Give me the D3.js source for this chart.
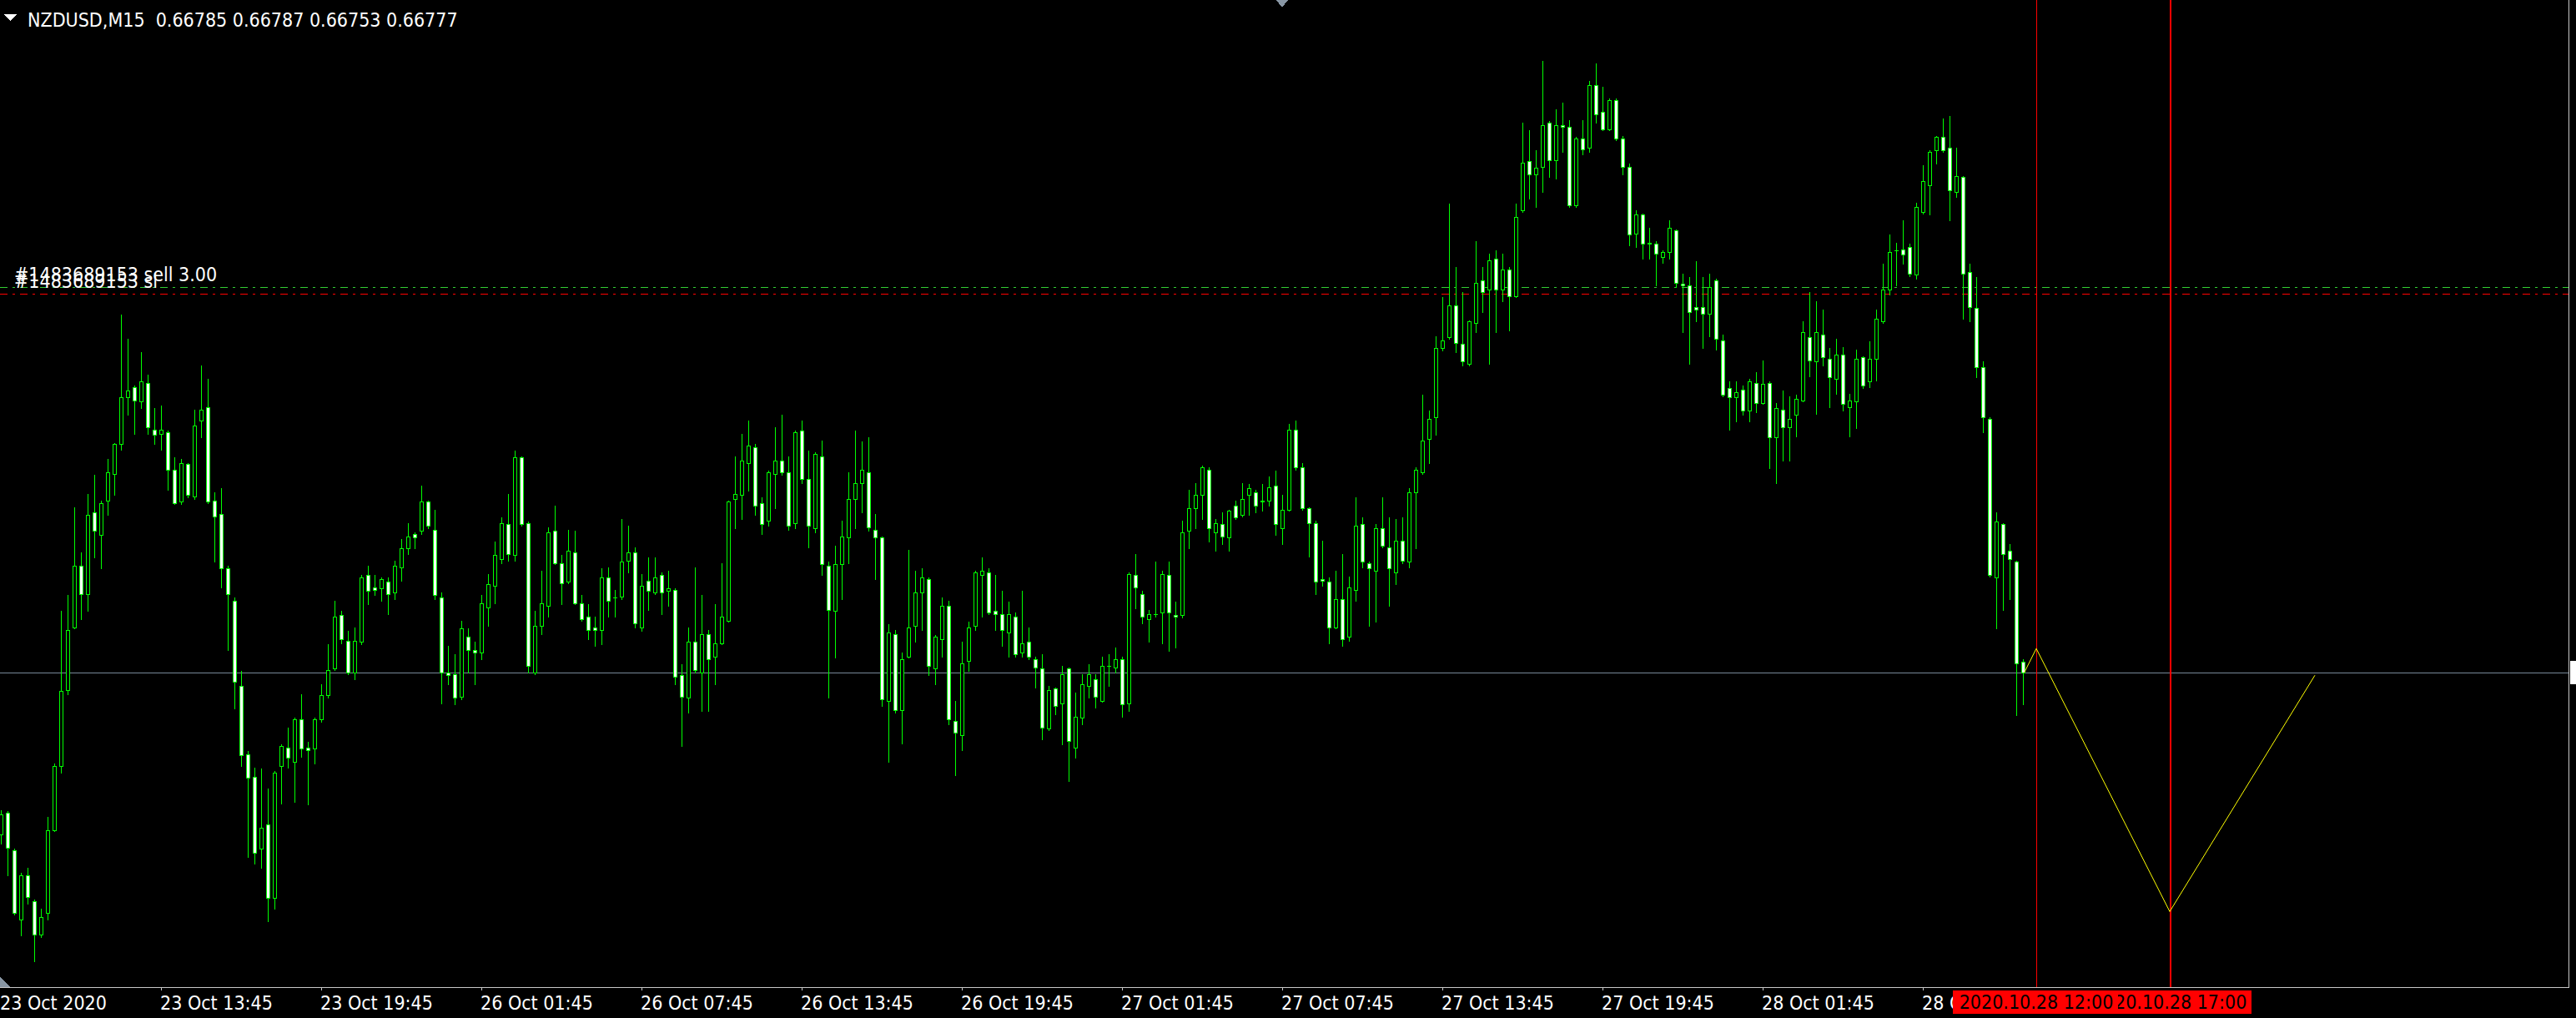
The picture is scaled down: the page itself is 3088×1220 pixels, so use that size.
<!DOCTYPE html>
<html><head><meta charset="utf-8">
<script src="https://cdn.jsdelivr.net/npm/d3@7"></script>
<style>html,body{margin:0;padding:0;background:#000;overflow:hidden}svg{display:block}</style>
</head><body>
<svg id="c" width="3088" height="1220"></svg>
<script>
// ---------------- data ----------------
const symbol = "NZDUSD,M15";
const lastBar = [0.66785, 0.66787, 0.66753, 0.66777]; // O H L C of the current bar
const firstBarTime = "2020.10.23 07:45";

const open = [
0.66656,0.66672,0.66644,0.66592,0.66625,0.66606,0.66581,0.66597,0.66659,0.66707,
0.66764,0.66811,0.66857,0.66836,0.66897,0.66880,0.66906,0.66926,0.66948,0.66983,
0.66991,0.66980,0.66994,0.66959,0.66956,0.66957,0.66929,0.66905,0.66933,0.66909,
0.66966,0.66976,0.66906,0.66896,0.66855,0.66831,0.66767,0.66716,0.66699,0.66645,
0.66663,0.66608,0.66707,0.66721,0.66710,0.66742,0.66721,0.66720,0.66742,0.66760,
0.66780,0.66820,0.66801,0.66777,0.66800,0.66850,0.66841,0.66840,0.66845,0.66837,
0.66856,0.66870,0.66881,0.66883,0.66905,0.66884,0.66833,0.66777,0.66776,0.66759,
0.66804,0.66794,0.66792,0.66826,0.66842,0.66862,0.66888,0.66865,0.66938,0.66889,
0.66777,0.66812,0.66827,0.66883,0.66859,0.66845,0.66867,0.66829,0.66819,0.66811,
0.66809,0.66848,0.66833,0.66834,0.66861,0.66867,0.66811,0.66846,0.66837,0.66850,
0.66838,0.66839,0.66775,0.66758,0.66800,0.66777,0.66806,0.66789,0.66799,0.66816,
0.66907,0.66910,0.66934,0.66946,0.66904,0.66891,0.66926,0.66936,0.66927,0.66889,
0.66958,0.66922,0.66885,0.66939,0.66857,0.66823,0.66858,0.66878,0.66907,0.66919,
0.66927,0.66884,0.66878,0.66756,0.66806,0.66749,0.66789,0.66812,0.66837,0.66847,
0.66780,0.66802,0.66827,0.66741,0.66730,0.66786,0.66812,0.66850,0.66852,0.66823,
0.66821,0.66807,0.66819,0.66792,0.66800,0.66787,0.66780,0.66735,0.66765,0.66754,
0.66780,0.66721,0.66743,0.66767,0.66772,0.66756,0.66782,0.66781,0.66787,0.66754,
0.66850,0.66836,0.66817,0.66821,0.66822,0.66850,0.66820,0.66820,0.66883,0.66900,
0.66910,0.66929,0.66882,0.66888,0.66878,0.66902,0.66895,0.66910,0.66912,0.66906,
0.66906,0.66917,0.66885,0.66899,0.66959,0.66931,0.66900,0.66889,0.66847,0.66845,
0.66811,0.66832,0.66804,0.66839,0.66888,0.66859,0.66853,0.66885,0.66871,0.66852,
0.66876,0.66860,0.66912,0.66927,0.66952,0.66968,0.67020,0.67028,0.67052,0.67023,
0.67008,0.67039,0.67071,0.67064,0.67087,0.67064,0.67079,0.67059,0.67123,0.67160,
0.67150,0.67156,0.67189,0.67161,0.67187,0.67186,0.67127,0.67177,0.67170,0.67217,
0.67197,0.67184,0.67206,0.67177,0.67156,0.67106,0.67120,0.67099,0.67098,0.67088,
0.67092,0.67108,0.67068,0.67067,0.67051,0.67051,0.67046,0.67071,0.67026,0.66990,
0.66983,0.66989,0.66973,0.66994,0.66979,0.66994,0.66953,0.66974,0.66961,0.66970,
0.66981,0.67028,0.67010,0.67030,0.67012,0.66997,0.67015,0.66976,0.66980,0.67013,
0.66995,0.67012,0.67040,0.67064,0.67093,0.67094,0.67096,0.67075,0.67122,0.67142,
0.67168,0.67178,0.67170,0.67137,0.67148,0.67077,0.67050,0.67006,0.66967,0.66848,
0.66888,0.66868,0.66860,0.66785];

const high = [
0.66674,0.66673,0.66645,0.66627,0.66631,0.66607,0.66600,0.66669,0.66709,0.66823,
0.66835,0.66901,0.66867,0.66911,0.66925,0.66906,0.66937,0.66949,0.67045,0.67027,
0.66992,0.67017,0.67000,0.66975,0.66977,0.66958,0.66938,0.66937,0.66934,0.66974,
0.67007,0.66997,0.66912,0.66915,0.66857,0.66833,0.66778,0.66718,0.66706,0.66705,
0.66690,0.66703,0.66723,0.66736,0.66743,0.66761,0.66725,0.66743,0.66768,0.66798,
0.66831,0.66823,0.66808,0.66811,0.66850,0.66857,0.66850,0.66848,0.66848,0.66861,
0.66877,0.66889,0.66882,0.66917,0.66906,0.66899,0.66837,0.66797,0.66791,0.66816,
0.66810,0.66800,0.66835,0.66851,0.66875,0.66893,0.66911,0.66943,0.66939,0.66890,
0.66823,0.66853,0.66886,0.66902,0.66865,0.66884,0.66883,0.66835,0.66828,0.66819,
0.66855,0.66856,0.66839,0.66892,0.66887,0.66871,0.66851,0.66863,0.66863,0.66852,
0.66853,0.66840,0.66783,0.66811,0.66856,0.66835,0.66809,0.66828,0.66859,0.66906,
0.66939,0.66956,0.66966,0.66948,0.66908,0.66928,0.66961,0.66970,0.66939,0.66958,
0.66966,0.66943,0.66942,0.66951,0.66860,0.66872,0.66891,0.66927,0.66958,0.66950,
0.66953,0.66896,0.66879,0.66813,0.66809,0.66792,0.66869,0.66853,0.66855,0.66848,
0.66805,0.66833,0.66831,0.66756,0.66800,0.66815,0.66853,0.66863,0.66855,0.66850,
0.66838,0.66830,0.66822,0.66838,0.66811,0.66789,0.66791,0.66767,0.66766,0.66782,
0.66781,0.66762,0.66776,0.66783,0.66776,0.66789,0.66791,0.66796,0.66789,0.66852,
0.66866,0.66838,0.66824,0.66860,0.66853,0.66860,0.66830,0.66891,0.66914,0.66919,
0.66932,0.66931,0.66892,0.66897,0.66899,0.66906,0.66919,0.66918,0.66914,0.66918,
0.66924,0.66928,0.66910,0.66963,0.66966,0.66934,0.66901,0.66891,0.66876,0.66848,
0.66853,0.66866,0.66849,0.66908,0.66893,0.66860,0.66888,0.66908,0.66893,0.66892,
0.66893,0.66915,0.66931,0.66985,0.66973,0.67029,0.67058,0.67128,0.67081,0.67062,
0.67041,0.67100,0.67081,0.67091,0.67093,0.67091,0.67081,0.67128,0.67189,0.67183,
0.67168,0.67235,0.67190,0.67199,0.67204,0.67191,0.67178,0.67191,0.67220,0.67233,
0.67216,0.67207,0.67207,0.67179,0.67158,0.67123,0.67121,0.67110,0.67100,0.67093,
0.67116,0.67109,0.67076,0.67073,0.67085,0.67073,0.67076,0.67072,0.67030,0.66995,
0.66995,0.66992,0.66997,0.67002,0.67011,0.66995,0.66979,0.66988,0.66984,0.66985,
0.67040,0.67062,0.67055,0.67049,0.67020,0.67027,0.67021,0.66986,0.67019,0.67014,
0.67025,0.67049,0.67083,0.67105,0.67099,0.67116,0.67098,0.67129,0.67157,0.67168,
0.67179,0.67192,0.67194,0.67170,0.67149,0.67083,0.67073,0.67010,0.66968,0.66897,
0.66889,0.66873,0.66861,0.66787];

const low = [
0.66649,0.66625,0.66596,0.66580,0.66604,0.66561,0.66579,0.66592,0.66658,0.66702,
0.66761,0.66810,0.66817,0.66823,0.66863,0.66855,0.66895,0.66910,0.66944,0.66970,
0.66956,0.66975,0.66956,0.66948,0.66944,0.66914,0.66903,0.66903,0.66908,0.66907,
0.66953,0.66904,0.66860,0.66841,0.66794,0.66750,0.66707,0.66639,0.66634,0.66631,
0.66591,0.66600,0.66679,0.66706,0.66680,0.66714,0.66678,0.66709,0.66740,0.66758,
0.66779,0.66799,0.66776,0.66772,0.66798,0.66828,0.66835,0.66831,0.66821,0.66832,
0.66846,0.66866,0.66870,0.66881,0.66885,0.66832,0.66754,0.66768,0.66753,0.66757,
0.66777,0.66768,0.66787,0.66812,0.66829,0.66859,0.66861,0.66861,0.66887,0.66777,
0.66776,0.66806,0.66819,0.66858,0.66828,0.66844,0.66828,0.66816,0.66802,0.66797,
0.66798,0.66819,0.66819,0.66832,0.66852,0.66811,0.66808,0.66824,0.66836,0.66821,
0.66827,0.66768,0.66722,0.66747,0.66777,0.66748,0.66748,0.66768,0.66798,0.66815,
0.66885,0.66892,0.66913,0.66895,0.66881,0.66887,0.66900,0.66925,0.66884,0.66885,
0.66919,0.66871,0.66882,0.66850,0.66758,0.66788,0.66832,0.66859,0.66885,0.66897,
0.66883,0.66847,0.66752,0.66710,0.66747,0.66724,0.66788,0.66800,0.66809,0.66775,
0.66768,0.66789,0.66738,0.66700,0.66719,0.66778,0.66809,0.66819,0.66821,0.66809,
0.66797,0.66789,0.66789,0.66789,0.66787,0.66766,0.66727,0.66734,0.66746,0.66723,
0.66696,0.66713,0.66738,0.66758,0.66751,0.66755,0.66767,0.66777,0.66744,0.66748,
0.66825,0.66814,0.66800,0.66819,0.66799,0.66793,0.66796,0.66818,0.66870,0.66885,
0.66892,0.66875,0.66868,0.66873,0.66868,0.66892,0.66894,0.66895,0.66897,0.66898,
0.66902,0.66880,0.66873,0.66898,0.66929,0.66899,0.66864,0.66836,0.66842,0.66799,
0.66810,0.66797,0.66801,0.66831,0.66856,0.66812,0.66815,0.66871,0.66827,0.66843,
0.66859,0.66856,0.66870,0.66926,0.66934,0.66955,0.67018,0.67027,0.67017,0.67007,
0.67007,0.67032,0.67047,0.67008,0.67032,0.67055,0.67033,0.67058,0.67122,0.67132,
0.67126,0.67137,0.67148,0.67147,0.67167,0.67126,0.67126,0.67165,0.67167,0.67189,
0.67183,0.67183,0.67176,0.67150,0.67097,0.67096,0.67087,0.67087,0.67067,0.67084,
0.67087,0.67066,0.67032,0.67008,0.67040,0.67020,0.67029,0.67019,0.66984,0.66959,
0.66965,0.66970,0.66965,0.66972,0.66978,0.66930,0.66919,0.66936,0.66936,0.66954,
0.66980,0.66999,0.66971,0.67007,0.66976,0.66986,0.66973,0.66954,0.66960,0.66990,
0.66991,0.66996,0.67039,0.67060,0.67067,0.67083,0.67074,0.67072,0.67121,0.67120,
0.67158,0.67167,0.67116,0.67133,0.67042,0.67040,0.66998,0.66957,0.66849,0.66810,
0.66824,0.66832,0.66745,0.66753];

const close = [
0.66671,0.66646,0.66597,0.66625,0.66609,0.66581,0.66594,0.66659,0.66707,0.66763,
0.66809,0.66857,0.66836,0.66895,0.66883,0.66904,0.66927,0.66948,0.66983,0.66988,
0.66981,0.66995,0.66961,0.66955,0.66959,0.66929,0.66904,0.66934,0.66910,0.66962,
0.66974,0.66905,0.66894,0.66855,0.66836,0.66770,0.66715,0.66698,0.66642,0.66661,
0.66608,0.66702,0.66722,0.66713,0.66742,0.66720,0.66719,0.66742,0.66760,0.66779,
0.66819,0.66802,0.66777,0.66801,0.66848,0.66838,0.66839,0.66847,0.66836,0.66857,
0.66870,0.66879,0.66878,0.66905,0.66887,0.66835,0.66777,0.66775,0.66758,0.66810,
0.66794,0.66792,0.66829,0.66843,0.66865,0.66889,0.66866,0.66938,0.66888,0.66782,
0.66812,0.66829,0.66882,0.66859,0.66844,0.66868,0.66829,0.66817,0.66809,0.66809,
0.66848,0.66831,0.66833,0.66860,0.66867,0.66814,0.66842,0.66838,0.66848,0.66837,
0.66840,0.66774,0.66759,0.66800,0.66779,0.66806,0.66787,0.66799,0.66819,0.66905,
0.66911,0.66936,0.66947,0.66902,0.66888,0.66927,0.66936,0.66927,0.66887,0.66957,
0.66922,0.66887,0.66941,0.66858,0.66824,0.66858,0.66879,0.66907,0.66919,0.66929,
0.66886,0.66878,0.66757,0.66807,0.66749,0.66787,0.66811,0.66837,0.66848,0.66782,
0.66804,0.66827,0.66742,0.66732,0.66784,0.66811,0.66852,0.66853,0.66822,0.66821,
0.66809,0.66821,0.66791,0.66799,0.66789,0.66781,0.66736,0.66764,0.66752,0.66776,
0.66726,0.66744,0.66768,0.66776,0.66759,0.66782,0.66782,0.66787,0.66753,0.66851,
0.66841,0.66819,0.66821,0.66821,0.66851,0.66822,0.66819,0.66882,0.66900,0.66910,
0.66931,0.66885,0.66889,0.66879,0.66898,0.66893,0.66907,0.66915,0.66902,0.66905,
0.66916,0.66888,0.66899,0.66959,0.66931,0.66900,0.66889,0.66845,0.66846,0.66811,
0.66832,0.66802,0.66841,0.66887,0.66860,0.66855,0.66885,0.66872,0.66855,0.66876,
0.66861,0.66912,0.66929,0.66951,0.66967,0.67020,0.67026,0.67052,0.67024,0.67010,
0.67040,0.67069,0.67062,0.67086,0.67064,0.67079,0.67059,0.67118,0.67159,0.67150,
0.67155,0.67187,0.67161,0.67187,0.67186,0.67127,0.67177,0.67169,0.67217,0.67195,
0.67184,0.67206,0.67177,0.67156,0.67105,0.67120,0.67098,0.67098,0.67091,0.67092,
0.67110,0.67069,0.67067,0.67047,0.67049,0.67046,0.67066,0.67027,0.66985,0.66983,
0.66987,0.66973,0.66995,0.66979,0.66993,0.66953,0.66975,0.66961,0.66967,0.66982,
0.67032,0.67011,0.67032,0.67013,0.66998,0.67015,0.66978,0.66981,0.67012,0.66992,
0.67012,0.67042,0.67064,0.67092,0.67093,0.67090,0.67076,0.67126,0.67145,0.67167,
0.67178,0.67168,0.67138,0.67149,0.67076,0.67051,0.67006,0.66968,0.66850,0.66890,
0.66866,0.66862,0.66784,0.66777];

const tickLabels = ["23 Oct 2020","23 Oct 13:45","23 Oct 19:45","26 Oct 01:45","26 Oct 07:45",
  "26 Oct 13:45","26 Oct 19:45","27 Oct 01:45","27 Oct 07:45","27 Oct 13:45","27 Oct 19:45",
  "28 Oct 01:45","28 Oct 07:45"];
const barsPerTick = 24;

const orderLabel = "#1483689153 sell 3.00";
const orderPrice = 0.67066;
const slLabel = "#1483689153 sl";
const slPrice = 0.67061;

const markTimes = ["2020.10.28 12:00", "2020.10.28 17:00"];

// zigzag (bar position, price)
const zigBars   = [303.2, 305, 325, 346.75];
const zigPrices = [0.66777, 0.66795, 0.66598, 0.66775];

// ---------------- helpers ----------------
function parseT(s){ const [d,t]=s.split(' '); const [Y,M,D]=d.split('.').map(Number); const [h,m]=t.split(':').map(Number); return Date.UTC(Y,M-1,D,h,m); }
function barIndex(s){
  const target = parseT(s); let tm = parseT(firstBarTime), i = 0;
  while (tm < target){ tm += 900000; const wd = new Date(tm).getUTCDay(); if (wd===0||wd===6) continue; i++; }
  return i;
}

// ---------------- layout ----------------
const W = 3088, H = 1220;
const plotRight = 3079, plotBottom = 1183;
const FONT = "'DejaVu Sans Condensed','DejaVu Sans',sans-serif";
const FS = 23;

const x = d3.scaleLinear().domain([0, 384.75]).range([1, plotRight]);
const y = d3.scaleLinear().domain([0.665414, 0.672808]).range([plotBottom, 0]);
const px = i => Math.round(x(i));
const py = p => Math.round(y(p));

const svg = d3.select('#c').attr('shape-rendering','crispEdges');
svg.append('rect').attr('width',W).attr('height',H).attr('fill','#000');

const GREEN = '#00ff00';

// bid line
svg.append('rect').attr('x',0).attr('y',py(lastBar[3])).attr('width',plotRight).attr('height',1).attr('fill','#778899');

// order lines
[[orderPrice,'#32cd32'],[slPrice,'#ff0000']].forEach(([p,c])=>{
  svg.append('line').attr('x1',0).attr('x2',plotRight).attr('y1',py(p)+0.5).attr('y2',py(p)+0.5)
    .attr('stroke',c).attr('stroke-width',1).attr('stroke-dasharray','9,6,3,6');
});

// candles
const data = open.map((o,i)=>({i,o,h:high[i],l:low[i],c:close[i]}));
const cg = svg.append('g');
data.forEach(d=>{
  const cx = px(d.i);
  const yh = py(d.h), yl = py(d.l);
  cg.append('rect').attr('x',cx).attr('y',yh).attr('width',1).attr('height',yl-yh+1).attr('fill',GREEN);
  const top = py(Math.max(d.o,d.c)), bot = py(Math.min(d.o,d.c));
  cg.append('rect').attr('x',cx-2).attr('y',top).attr('width',5).attr('height',bot-top+1).attr('fill',GREEN);
  if (bot-top-1 > 0){
    cg.append('rect').attr('x',cx-1).attr('y',top+1).attr('width',3).attr('height',bot-top-1)
      .attr('fill', d.c>d.o ? '#000' : '#fff');
  }
});

// vertical time marks (first thin, second thicker)
const markBars = markTimes.map(barIndex);
markBars.forEach((b,k)=>{
  svg.append('rect').attr('x',px(b)).attr('y',0).attr('width',k===0?1:2).attr('height',plotBottom).attr('fill','#ff0000');
});

// zigzag
svg.append('path')
  .attr('d', d3.line().x((d,i)=>x(zigBars[i])).y(d=>y(d))(zigPrices))
  .attr('fill','none').attr('stroke','#ffff00').attr('stroke-width',1).attr('shape-rendering','auto');

// order labels
svg.append('text').attr('x',17).attr('y',337).attr('fill','#fff').attr('font-family',FONT).attr('font-size',FS).text(orderLabel);
svg.append('text').attr('x',17).attr('y',345).attr('fill','#fff').attr('font-family',FONT).attr('font-size',FS).text(slLabel);

// frame
svg.append('rect').attr('x',0).attr('y',plotBottom).attr('width',plotRight+1).attr('height',1).attr('fill','#c8c8c8');
svg.append('rect').attr('x',plotRight).attr('y',0).attr('width',1).attr('height',plotBottom).attr('fill','#c8c8c8');
// current price marker on right
svg.append('rect').attr('x',plotRight+2).attr('y',py(lastBar[3])-14).attr('width',W-plotRight-2).attr('height',28).attr('fill','#fff');

// time axis ticks and labels
const ag = svg.append('g');
tickLabels.forEach((t,k)=>{
  const b = k*barsPerTick, tx = px(b);
  if (k>0) ag.append('rect').attr('x',tx).attr('y',plotBottom+1).attr('width',1).attr('height',3).attr('fill','#c8c8c8');
  ag.append('text').attr('x', k===0 ? 0 : tx-1).attr('y',1210).attr('fill','#fff')
    .attr('font-family',FONT).attr('font-size',FS).text(t);
});

// red time labels (second drawn first, first drawn on top)
[1,0].forEach(k=>{
  const cx = px(markBars[k]);
  const grp = svg.append('g');
  grp.append('rect').attr('x',cx-100).attr('y',1187).attr('width',198).attr('height',28).attr('fill','#ff0000');
  grp.append('text').attr('x',cx).attr('y',1209).attr('text-anchor','middle').attr('fill','#000')
    .attr('font-family',FONT).attr('font-size',FS).text(markTimes[k]);
});

// shift markers
svg.append('path').attr('d','M0,1170L0,1183L12,1183Z').attr('fill','#8896a4');
svg.append('path').attr('d','M1530,0L1544,0L1537,9Z').attr('fill','#8896a4');

// header
svg.append('path').attr('d','M5,17L20,17L12.5,25Z').attr('fill','#fff');
svg.append('text').attr('x',33).attr('y',32).attr('fill','#fff').attr('font-family',FONT).attr('font-size',FS)
  .style('white-space','pre')
  .text(`${symbol}  ${lastBar.map(v=>v.toFixed(5)).join(' ')}`);
</script>
</body></html>
